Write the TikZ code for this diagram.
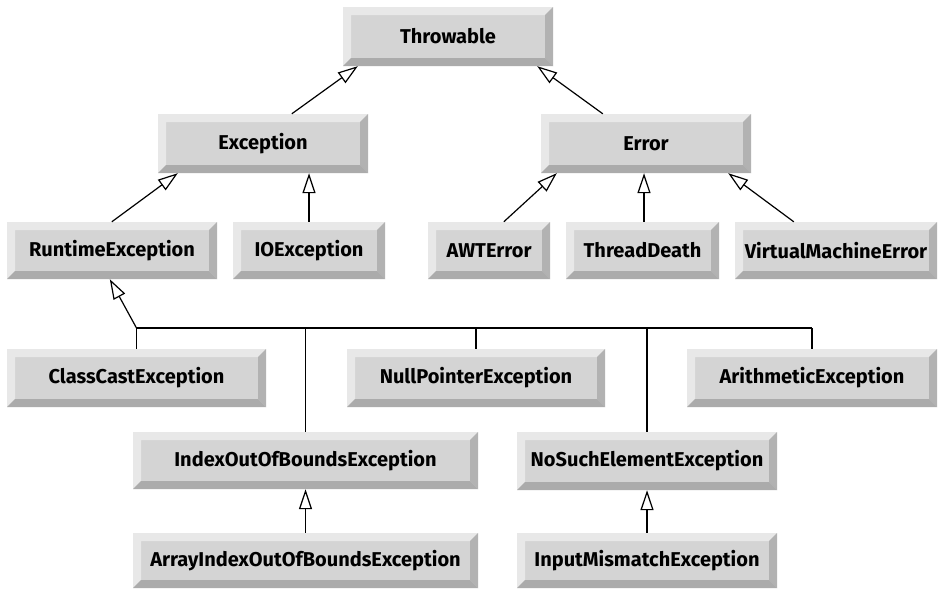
\documentclass[tikz,border=0pt]{standalone}
\usepackage{fontspec}
\setsansfont{Fira Sans}
\usetikzlibrary{arrows.meta,calc}
\definecolor{bvlight}{HTML}{E8E8E8}
\definecolor{bvface}{HTML}{D4D4D4}
\definecolor{bvdark}{HTML}{ABABAB}
\definecolor{bvside}{HTML}{B2B2B2}
\tikzset{
  cls/.style={rectangle, inner sep=0pt, fill=bvface,
    font=\sffamily\bfseries\fontsize{20}{24}\selectfont,
    path picture={
      \fill[bvlight] (path picture bounding box.north west) -- (path picture bounding box.north east)
        -- ($(path picture bounding box.north east)+(-8pt,-8pt)$) -- ($(path picture bounding box.north west)+(8pt,-8pt)$)
        -- ($(path picture bounding box.south west)+(8pt,8pt)$) -- (path picture bounding box.south west) -- cycle;
      \fill[bvside] (path picture bounding box.north east) -- (path picture bounding box.south east)
        -- ($(path picture bounding box.south east)+(-8pt,8pt)$) -- ($(path picture bounding box.north east)+(-8pt,-8pt)$) -- cycle;
      \fill[bvdark] (path picture bounding box.south west) -- (path picture bounding box.south east)
        -- ($(path picture bounding box.south east)+(-8pt,8pt)$) -- ($(path picture bounding box.south west)+(8pt,8pt)$) -- cycle;
    }},
  inh/.style={draw, line width=1.2pt, -{Triangle[open, length=20pt, width=13pt, fill=white]}},
  plain/.style={draw, line width=1.2pt}
}
\newcommand\clsbox[6]{\node[cls, minimum width={(#4)-(#2)}, minimum height={(#5)-(#3)}] (#1) at ({((#2)+(#4))/2},{((#3)+(#5))/2}) {#6};}
\begin{document}
\begin{tikzpicture}[x=1pt,y=-1pt]
\useasboundingbox (0,0) rectangle (940,589);
\clsbox{Throwable}{343}{7}{553}{66}{Throwable}
\clsbox{Exception}{158}{114}{368}{173}{Exception}
\clsbox{Error}{541}{114}{751}{173}{Error}
\clsbox{Runtime}{7}{222}{217}{279}{RuntimeException}
\clsbox{IOExc}{233}{222}{385}{279}{IOException}
\clsbox{AWT}{428}{222}{550}{279}{AWTError}
\clsbox{Thread}{566}{222}{719}{279}{ThreadDeath}
\clsbox{VM}{735}{222}{937}{279}{VirtualMachineError}
\clsbox{ClassCast}{7}{349}{266}{407}{ClassCastException}
\clsbox{NullPtr}{347}{349}{605}{407}{NullPointerException}
\clsbox{Arith}{687}{349}{937}{407}{ArithmeticException}
\clsbox{IndexOOB}{133}{432}{478}{489}{IndexOutOfBoundsException}
\clsbox{NoSuch}{517}{432}{777}{490}{NoSuchElementException}
\clsbox{ArrayIdx}{133}{533}{478}{588}{ArrayIndexOutOfBoundsException}
\clsbox{InputMis}{517}{533}{777}{588}{InputMismatchException}

\draw[inh] ($(Exception.north west)+(134,0)$) -- ($(Throwable.south west)+(15,0)$);
\draw[inh] ($(Error.north west)+(62,0)$) -- ($(Throwable.south east)+(-16,0)$);
\draw[inh] ($(Runtime.north west)+(105,0)$) -- ($(Exception.south west)+(20,0)$);
\draw[inh] (IOExc.north) -- (IOExc.north |- Exception.south);
\draw[inh] ($(AWT.north west)+(76,0)$) -- ($(Error.south west)+(16,0)$);
\draw[inh] ($(Thread.north)+(1.5,0)$) -- ($(Thread.north |- Error.south)+(1.5,0)$);
\draw[inh] ($(VM.north west)+(59,0)$) -- ($(Error.south east)+(-23,0)$);

\coordinate (bus) at (136.5,328);
\draw[inh] (bus) -- ($(Runtime.south west)+(103,0)$);
\draw[plain] (bus) -- (bus -| Arith.north);
\draw[plain] (ClassCast.north) -- (ClassCast.north |- bus);
\draw[plain] (IndexOOB.north) -- (IndexOOB.north |- bus);
\draw[plain] (NullPtr.north) -- (NullPtr.north |- bus);
\draw[plain] (NoSuch.north) -- (NoSuch.north |- bus);
\draw[plain] (Arith.north) -- (Arith.north |- bus);

\draw[inh] (ArrayIdx.north) -- (IndexOOB.south);
\draw[inh] (InputMis.north) -- (NoSuch.south);
\end{tikzpicture}
\end{document}
